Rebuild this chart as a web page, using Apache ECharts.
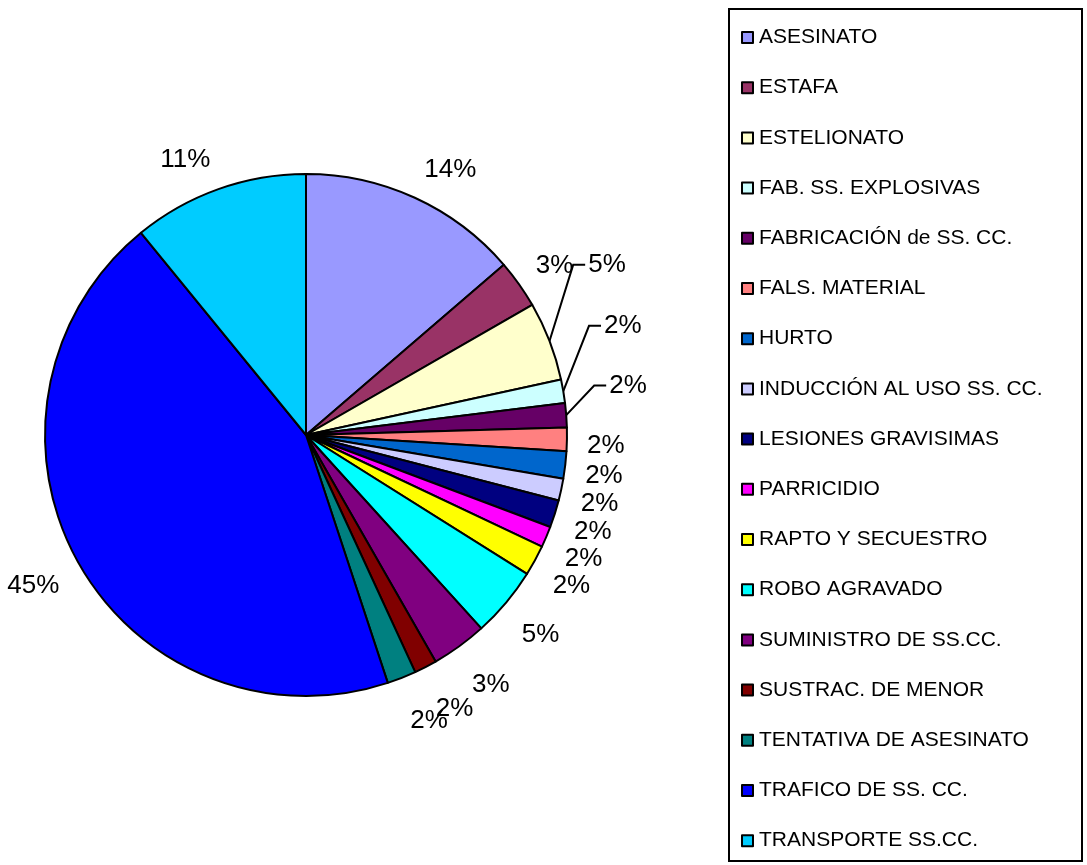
<!DOCTYPE html>
<html><head><meta charset="utf-8">
<script src="https://cdn.jsdelivr.net/npm/echarts@6/dist/echarts.min.js"></script>
<style>html,body{margin:0;padding:0;background:#fff}#c{width:1087px;height:865px}</style>
</head><body><div id="c"></div>
<script>
var categories = ["ASESINATO","ESTAFA","ESTELIONATO","FAB. SS. EXPLOSIVAS","FABRICACIÓN de SS. CC.","FALS. MATERIAL","HURTO","INDUCCIÓN AL USO SS. CC.","LESIONES GRAVISIMAS","PARRICIDIO","RAPTO Y SECUESTRO","ROBO AGRAVADO","SUMINISTRO DE SS.CC.","SUSTRAC. DE MENOR","TENTATIVA DE ASESINATO","TRAFICO DE SS. CC.","TRANSPORTE SS.CC."];
var values = [13.7,3.0,4.9,1.45,1.5,1.45,1.7,1.35,1.7,1.3,1.9,4.35,3.45,1.4,1.8,44.2,10.9];
var pctLabels = ["14%","3%","5%","2%","2%","2%","2%","2%","2%","2%","2%","5%","3%","2%","2%","45%","11%"];
var colors = ["#9999FF","#993366","#FFFFCC","#CCFFFF","#660066","#FF8080","#0066CC","#CCCCFF","#000080","#FF00FF","#FFFF00","#00FFFF","#800080","#800000","#008080","#0000FF","#00CCFF"];

// layout/style settings (not data)
var CX = 306, CY = 435, R = 261;
var lineLabelShift = {2:{dx:4, dy:-69}, 3:{dx:5, dy:-62}, 4:{dx:7, dy:-28}};

var chart = echarts.init(document.getElementById('c'));
var data = categories.map(function(n,i){
  var d = {name:n, value:values[i], itemStyle:{color:colors[i]}};
  if (lineLabelShift[i]) d.labelLine = {show:true, length:20, length2:14};
  return d;
});
chart.setOption({
  animation:false,
  color: colors,
  graphic:[{type:'rect', shape:{x:729, y:9, width:353, height:852}, style:{fill:'#fff', stroke:'#000', lineWidth:2}, z:-1}],
  legend:{
    orient:'vertical', left:736, top:22, height:840, itemGap:29.2,
    itemWidth:11, itemHeight:11, icon:'rect',
    itemStyle:{borderColor:'#000', borderWidth:2},
    textStyle:{fontFamily:'Liberation Sans, Arial', fontSize:21, color:'#000', padding:[0,0,0,1]},
    data: categories
  },
  series:[{
    type:'pie', center:[CX,CY], radius:R, startAngle:90, clockwise:true,
    avoidLabelOverlap:false,
    itemStyle:{borderColor:'#000', borderWidth:2},
    label:{show:true, position:'outside', overflow:'none', formatter:function(p){return pctLabels[p.dataIndex];},
      fontFamily:'Liberation Sans, Arial', fontSize:26, color:'#000', distanceToLabelLine:2},
    labelLine:{show:false, length:18, length2:0, lineStyle:{color:'#000', width:2}},
    labelLayout:function(p){
      var i = p.dataIndex, r = p.labelRect, pts = p.labelLinePoints;
      if (!pts) return {};
      var s = lineLabelShift[i];
      if (s) {
        var nx = r.x + s.dx, ny = r.y + r.height/2 + s.dy;
        return {dx:s.dx, dy:s.dy, labelLinePoints:[pts[0], [nx-15, ny], [nx-3, ny]]};
      }
      var cos = (CY - pts[0][1]) / R;
      var dy = cos >= 0 ? -cos * r.height / 2 : -cos * r.height * 0.85 + 6;
      return {dy: dy};
    },
    emphasis:{disabled:true},
    data:data
  }]
});
</script></body></html>
